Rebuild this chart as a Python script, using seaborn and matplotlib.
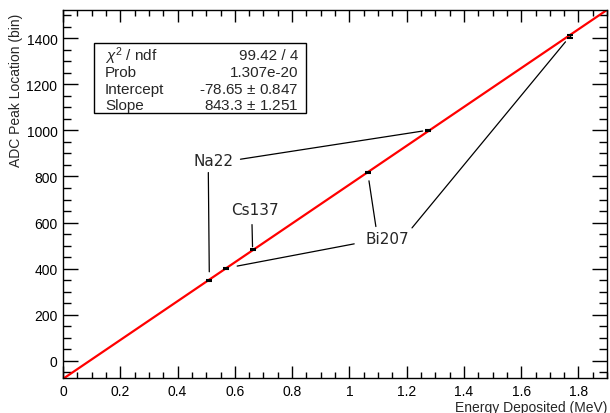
import matplotlib
matplotlib.use("Agg")
import matplotlib.pyplot as plt
import seaborn as sns
import pandas as pd
from matplotlib.ticker import MultipleLocator
from matplotlib.patches import Rectangle

# calibration points (energy in MeV, ADC peak in bins)
energy = [0.511, 0.570, 0.662, 1.064, 1.275, 1.770]
adc_peak = [350, 402, 483, 817, 1001, 1408]
adc_err = [2, 2, 2, 2, 2, 5]
source = ["Na22", "Bi207", "Cs137", "Bi207", "Na22", "Bi207"]

# fit result
intercept = -78.65
slope = 843.3
stat_names = ["$\\chi^{2}$ / ndf", "Prob", "Intercept", "Slope"]
stat_values = ["99.42 / 4", "1.307e-20", "-78.65 $\\pm$ 0.847", "843.3 $\\pm$ 1.251"]

x_range = [0, 1.9]
y_range = [-75, 1523]

sns.set_style("ticks")
plt.rcParams['font.family'] = ['Liberation Sans', 'DejaVu Sans']
plt.rcParams['mathtext.fontset'] = 'custom'
plt.rcParams['mathtext.rm'] = 'Liberation Sans'
plt.rcParams['mathtext.it'] = 'Liberation Sans:italic'

df = pd.DataFrame({"energy": energy, "adc": adc_peak, "err": adc_err, "source": source})
fit = pd.DataFrame({"energy": x_range,
                    "adc": [intercept + slope * e for e in x_range]})

fig = plt.figure(figsize=(6.1, 4.14), dpi=100)
ax = fig.add_axes([0.1033, 0.0845, 0.892, 0.889])

sns.lineplot(data=fit, x="energy", y="adc", color="red", linewidth=1.6, ax=ax, zorder=2)
ax.errorbar(df["energy"], df["adc"], yerr=df["err"], fmt="none", ecolor="black",
            elinewidth=1.0, capsize=2, capthick=1.5, zorder=3)

ax.set_xlim(x_range)
ax.set_ylim(y_range)
ax.xaxis.set_minor_locator(MultipleLocator(0.05))
ax.yaxis.set_major_locator(MultipleLocator(200))
ax.yaxis.set_minor_locator(MultipleLocator(50))
ax.set_xticks([0, 0.2, 0.4, 0.6, 0.8, 1, 1.2, 1.4, 1.6, 1.8])
ax.set_xticklabels(["0", "0.2", "0.4", "0.6", "0.8", "1", "1.2", "1.4", "1.6", "1.8"])
ax.tick_params(which="both", direction="in", top=True, right=True, width=1, labelsize=10, colors="black")
ax.tick_params(axis="x", which="major", length=8.5, pad=4)
ax.tick_params(axis="x", which="minor", length=4.3)
ax.tick_params(axis="y", which="major", length=11, pad=4)
ax.tick_params(axis="y", which="minor", length=5.5)
for s in ax.spines.values():
    s.set_linewidth(1)
    s.set_color("black")

ax.set_xlabel("Energy Deposited (MeV)", fontsize=10, loc="right")
ax.set_ylabel("ADC Peak Location (bin)", fontsize=10, loc="top")
ax.xaxis.set_label_coords(1.0, -0.061)
ax.yaxis.set_label_coords(-0.073, 0.992)

# stat box
ax.add_patch(Rectangle((0.057, 0.72), 0.39, 0.19, transform=ax.transAxes,
                       facecolor="white", edgecolor="black", linewidth=1, zorder=4))
rows = [0.878, 0.831, 0.785, 0.743]
for name, val, yy in zip(stat_names, stat_values, rows):
    ax.text(0.077, yy, name, transform=ax.transAxes, fontsize=11, va="center", ha="left", zorder=5)
    ax.text(0.432, yy, val, transform=ax.transAxes, fontsize=11, va="center", ha="right", zorder=5)

# source labels with lines to the peaks
labels = {"Na22": (0.524, 870), "Cs137": (0.671, 656), "Bi207": (1.133, 530)}
for name, pos in labels.items():
    ax.text(pos[0], pos[1], name, fontsize=11, family="DejaVu Sans", ha="center", va="center")

# (point index, label, relpos on text, shrink at text, shrink at point)
links = [(0, "Na22", (0.38, 0.0), 1, 6),
         (4, "Na22", (1.0, 0.5), 3, 4),
         (2, "Cs137", (0.43, 0.0), 3, 2),
         (3, "Bi207", (0.25, 1.0), 1, 6),
         (1, "Bi207", (0.0, 0.3), 6, 8),
         (5, "Bi207", (1.0, 1.0), 0, 5)]
for i, name, rp, sa, sb in links:
    ax.annotate(name, xy=(energy[i], adc_peak[i]), xytext=labels[name],
                fontsize=11, family="DejaVu Sans", ha="center", va="center", alpha=0,
                arrowprops=dict(arrowstyle="-", color="black", lw=0.9,
                                relpos=rp, shrinkA=sa, shrinkB=sb))

plt.savefig("out.png", dpi=100)
